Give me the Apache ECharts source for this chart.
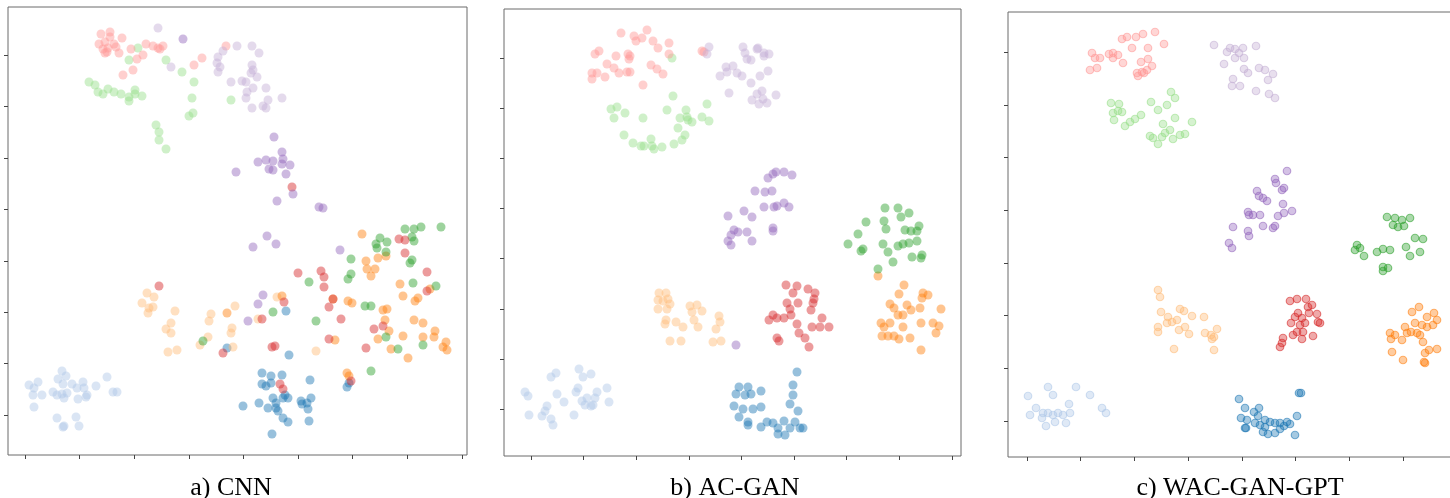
<!DOCTYPE html>
<html><head><meta charset="utf-8">
<script src="https://cdn.jsdelivr.net/npm/echarts@6/dist/echarts.min.js"></script>
<style>html,body{margin:0;padding:0;background:#fff}#c{width:1450px;height:498px}</style>
</head><body><div id="c"></div>
<script>
// ---- class names / colours (tab20 pairs) ----
const classNames = ['c0','c1','c2','c3','c4','c5','c6','c7','c8','c9'];
const panelTitles = ['a) CNN', 'b) AC-GAN', 'c) WAC-GAN-GPT'];

// ---- tick values (t-SNE units, no labels) ----
const aXTicks = [0,54.6,109.2,163.8,218.4,273,327.6,382.2,436.8];
const aYTicks = [0,51.4,102.8,154.2,205.6,257,308.4,359.8];
const bXTicks = [0,52.6,105.2,157.8,210.4,263,315.6,368.2,420.8];
const bYTicks = [0,50.1,100.2,150.3,200.4,250.5,300.6,350.7];
const cXTicks = [0,53.7,107.4,161.1,214.8,268.5,322.2,375.9];
const cYTicks = [0,52.7,105.4,158.1,210.8,263.5,316.2,368.9];

// ---- panel a) CNN ----
const cnnLightBlue = [[4,30],[13,33],[9,27],[8,20],[17,20],[9,8],[28,23],[33,36],[37,44],[41,39],[38,31],[32,20],[37,21],[42,22],[39,17],[47,31],[52,27],[58,33],[59,27],[53,16],[61,18],[62,20],[71,29],[82,38],[88,23],[92,23],[32,-3],[39,-11],[38,-12],[51,-2],[54,-11]];
const cnnBlue = [[264,60],[237,42],[246,39],[257,40],[237,31],[241,29],[246,32],[285,35],[248,17],[260,20],[258,17],[263,17],[218,9],[234,12],[243,7],[251,12],[251,7],[253,4],[276,14],[277,11],[282,12],[286,17],[283,6],[258,-3],[263,-7],[284,-6],[247,-19],[322,28],[324,32],[261,104],[202,67]];
const cnnLightOrange = [[122,122],[129,118],[117,112],[124,107],[128,108],[123,102],[150,104],[146,92],[141,86],[146,82],[143,63],[152,65],[186,101],[184,94],[210,109],[175,70],[183,78],[207,87],[206,82],[208,68],[252,118],[233,96],[291,64]];
const cnnOrange = [[337,181],[341,154],[353,157],[361,159],[342,146],[350,146],[346,139],[375,131],[378,119],[390,114],[393,117],[405,126],[323,114],[327,112],[358,105],[362,106],[360,95],[364,84],[353,76],[366,66],[378,79],[389,95],[398,92],[398,78],[410,84],[409,78],[421,73],[418,68],[422,65],[383,57],[308,116],[310,75],[322,42],[324,39],[257,119],[202,102]];
const cnnLightGreen = [[113,367],[104,355],[141,355],[157,343],[169,333],[167,317],[164,299],[168,302],[206,315],[64,333],[70,330],[73,323],[78,321],[83,326],[89,323],[96,321],[104,318],[104,314],[110,325],[110,321],[117,319],[131,290],[134,283],[134,275],[141,266]];
const cnnGreen = [[380,186],[389,186],[396,188],[416,188],[355,177],[351,171],[352,167],[362,173],[387,178],[389,174],[361,163],[387,155],[385,152],[326,156],[326,141],[323,136],[284,133],[388,132],[411,129],[248,103],[291,94],[340,109],[346,109],[361,78],[373,66],[398,70],[346,44],[178,74]];
const cnnLightRed = [[76,381],[85,383],[97,377],[85,378],[74,371],[80,373],[89,371],[78,366],[82,363],[80,362],[83,367],[91,368],[94,362],[106,366],[121,371],[128,369],[133,367],[138,369],[135,366],[112,356],[118,360],[108,345],[98,340],[169,350],[177,357],[201,369]];
const cnnRed = [[267,228],[374,176],[380,175],[380,162],[273,142],[296,144],[299,138],[299,128],[402,143],[402,124],[259,113],[308,116],[304,108],[237,96],[316,96],[349,86],[358,89],[134,129],[198,62],[247,68],[250,69],[304,76],[341,67],[255,31],[258,26],[326,34]];
const cnnLightPurple = [[133,387],[146,348],[193,358],[198,364],[192,352],[195,348],[193,343],[212,369],[227,369],[234,362],[227,350],[228,345],[226,342],[232,338],[206,333],[217,334],[221,333],[228,327],[241,327],[222,323],[221,317],[243,315],[257,317],[227,307],[238,309],[241,307]];
const cnnPurple = [[158,376],[249,278],[257,263],[258,256],[233,253],[241,255],[248,254],[257,251],[265,250],[244,246],[248,245],[261,241],[211,243],[268,221],[252,214],[294,208],[298,207],[242,179],[251,171],[228,168],[315,165],[238,120],[233,111],[223,94]];

// ---- panel b) AC-GAN ----
const acLightBlue = [[-6,17],[-3,13],[20,32],[25,36],[48,40],[52,32],[60,35],[26,15],[33,7],[45,17],[47,21],[51,8],[54,4],[56,11],[60,3],[62,4],[64,11],[66,17],[76,21],[78,7],[-2,-6],[11,-7],[14,-2],[16,3],[20,-10],[22,-16],[43,-6]];
const acBlue = [[266,37],[262,24],[208,22],[217,22],[205,15],[214,14],[220,15],[230,18],[262,14],[203,3],[212,0],[222,0],[230,2],[259,5],[267,-2],[208,-8],[217,-13],[217,-16],[230,-18],[236,-13],[242,-14],[253,-12],[264,-13],[247,-19],[259,-19],[269,-19],[272,-19],[247,-25],[254,-26]];
const acLightOrange = [[128,116],[135,116],[127,109],[132,108],[137,110],[139,105],[127,100],[136,100],[159,103],[166,104],[161,97],[171,98],[163,89],[167,82],[135,89],[134,85],[145,87],[152,82],[188,93],[189,87],[185,80],[139,68],[150,68],[182,67],[190,68]];
const acOrange = [[347,133],[373,124],[368,115],[392,116],[397,114],[391,111],[359,105],[363,101],[376,104],[380,99],[389,101],[410,100],[367,94],[372,94],[350,86],[353,82],[359,86],[372,82],[390,86],[402,86],[408,83],[351,73],[357,73],[363,73],[368,70],[379,71],[405,76],[390,59]];
const acLightGreen = [[141,351],[142,313],[80,300],[86,302],[94,296],[83,291],[112,291],[136,299],[155,299],[176,305],[149,291],[156,292],[157,289],[161,287],[171,292],[178,288],[147,281],[154,274],[151,269],[143,265],[93,274],[102,266],[110,263],[113,263],[120,270],[121,263],[123,260],[131,262]];
const acGreen = [[354,201],[367,201],[378,196],[370,192],[335,187],[353,188],[355,180],[327,175],[374,179],[380,178],[386,178],[388,183],[317,165],[332,160],[352,165],[367,163],[372,165],[378,166],[386,168],[330,158],[357,157],[362,147],[347,140],[381,152],[391,154],[390,151]];
const acLightRed = [[90,376],[103,373],[116,379],[111,371],[105,368],[122,368],[138,366],[127,361],[64,355],[68,358],[85,353],[97,355],[99,353],[98,350],[138,355],[76,345],[83,341],[61,336],[66,336],[61,330],[74,332],[88,336],[96,337],[99,337],[120,344],[126,340],[132,335],[112,324],[171,358],[173,357]];
const acRed = [[255,124],[266,123],[262,116],[277,120],[284,116],[283,110],[282,106],[256,106],[267,106],[259,100],[280,99],[242,94],[238,89],[246,91],[253,91],[260,94],[291,91],[266,85],[281,82],[289,82],[298,82],[268,76],[246,71],[248,68],[274,71],[278,62]];
const acLightPurple = [[178,362],[176,355],[212,362],[214,356],[216,350],[220,349],[226,360],[227,361],[233,356],[238,355],[233,353],[195,342],[202,343],[189,333],[196,337],[206,336],[211,333],[229,333],[237,338],[220,326],[198,316],[231,318],[226,315],[221,309],[232,310],[228,305],[236,306],[245,314]];
const acPurple = [[237,231],[242,235],[245,237],[253,237],[261,234],[224,218],[234,217],[241,218],[233,202],[243,202],[246,203],[253,206],[258,202],[197,193],[213,198],[221,192],[203,179],[207,177],[216,177],[242,181],[242,178],[200,174],[197,168],[221,168],[200,164],[205,64]];

// ---- panel c) WAC-GAN-GPT ----
const wacLightBlue = [[1,25],[9,13],[3,6],[21,34],[26,26],[49,34],[63,26],[16,8],[21,8],[26,6],[31,8],[19,-5],[28,-1],[39,-2],[42,17],[43,8],[36,6],[75,13],[79,8],[15,3]];
const wacBlue = [[212,22],[218,13],[214,3],[220,1],[218,-7],[227,9],[232,13],[231,5],[228,-2],[233,-4],[238,-6],[243,-1],[248,-2],[253,-2],[257,-5],[260,-1],[263,-3],[236,-11],[241,-13],[248,-12],[253,-8],[268,-14],[270,5],[272,28],[274,28],[219,-7],[238,1]];
const wacLightOrange = [[131,131],[133,124],[134,109],[141,104],[145,99],[150,101],[153,112],[157,110],[165,105],[158,94],[152,91],[131,94],[131,89],[162,87],[177,104],[178,88],[184,86],[187,84],[190,92],[185,82],[147,72],[187,71],[140,98]];
const wacOrange = [[385,109],[392,114],[400,104],[407,108],[410,101],[406,96],[388,98],[395,96],[400,94],[378,94],[384,89],[390,88],[393,86],[363,88],[368,86],[364,82],[375,81],[380,88],[396,79],[365,69],[376,61],[398,68],[402,71],[410,72],[397,59],[398,58]];
const wacLightGreen = [[84,318],[92,317],[91,310],[95,309],[86,308],[87,301],[98,295],[103,299],[108,302],[114,306],[124,319],[131,311],[140,316],[144,329],[148,323],[136,297],[143,291],[148,303],[165,299],[123,285],[126,283],[135,284],[131,277],[146,282],[153,286],[158,287],[138,288]];
const wacGreen = [[360,204],[368,203],[375,201],[383,203],[366,196],[371,194],[377,195],[330,176],[333,173],[328,171],[337,165],[350,169],[356,172],[363,171],[379,174],[388,183],[396,182],[393,169],[383,165],[356,154],[361,153],[356,150]];
const wacLightRed = [[65,368],[68,363],[73,363],[82,367],[86,368],[91,366],[86,363],[96,358],[63,351],[70,353],[95,382],[100,384],[109,384],[116,387],[128,389],[137,377],[105,373],[121,373],[114,359],[121,362],[125,355],[120,351],[117,348],[111,345],[110,348],[115,349]];
const wacRed = [[263,120],[270,122],[279,122],[285,116],[271,108],[268,104],[275,103],[282,108],[290,107],[291,99],[293,98],[264,98],[273,96],[278,98],[270,89],[276,89],[266,86],[286,85],[275,82],[256,83],[255,78],[253,74],[281,114]];
const wacLightPurple = [[187,376],[200,369],[203,373],[208,372],[216,373],[212,368],[208,363],[217,363],[197,357],[229,375],[217,352],[221,348],[232,353],[238,351],[246,347],[241,341],[206,342],[205,335],[213,335],[229,330],[242,327],[248,323]];
const wacPurple = [[260,250],[248,242],[249,238],[257,233],[255,231],[230,230],[232,225],[236,223],[240,220],[256,217],[265,210],[257,208],[251,205],[221,209],[226,206],[222,206],[233,206],[236,195],[246,193],[248,195],[206,194],[221,190],[222,185],[202,178],[205,173]];

// ---------------- build chart ----------------
const palette = ['#aec7e8','#1f77b4','#ffbb78','#ff7f0e','#98df8a','#2ca02c','#ff9896','#d62728','#c5b0d5','#9467bd'];
const panels = [
  {data:[cnnLightBlue,cnnBlue,cnnLightOrange,cnnOrange,cnnLightGreen,cnnGreen,cnnLightRed,cnnRed,cnnLightPurple,cnnPurple],
   grid:{left:8,top:7,width:459,height:448}, x:[-17,442], y:[-40,408], xt:aXTicks, yt:aYTicks, tx:226, ring:false},
  {data:[acLightBlue,acBlue,acLightOrange,acOrange,acLightGreen,acGreen,acLightRed,acRed,acLightPurple,acPurple],
   grid:{left:504,top:9,width:457,height:447}, x:[-27,430], y:[-47,400], xt:bXTicks, yt:bYTicks, tx:730, ring:false},
  {data:[wacLightBlue,wacBlue,wacLightOrange,wacOrange,wacLightGreen,wacGreen,wacLightRed,wacRed,wacLightPurple,wacPurple],
   grid:{left:1008,top:12,width:444,height:445}, x:[-19,425], y:[-36,409], xt:cXTicks, yt:cYTicks, tx:1235, ring:true}
];
function rgba(hex,a){const n=parseInt(hex.slice(1),16);return `rgba(${n>>16&255},${n>>8&255},${n&255},${a})`;}
const grids=[],xAxes=[],yAxes=[],series=[],titles=[];
panels.forEach((p,i)=>{
  grids.push(Object.assign({show:true,borderColor:'#6b6b6b',borderWidth:1,backgroundColor:'#fff',outerBoundsMode:'none'},p.grid));
  const common={gridIndex:i,type:'value',splitLine:{show:false},axisLabel:{show:false},
    axisLine:{show:false,onZero:false},axisTick:{show:true,inside:false,length:4,lineStyle:{color:'#444',width:1}}};
  xAxes.push(Object.assign({},common,{position:'bottom',min:p.x[0],max:p.x[1],axisTick:Object.assign({},common.axisTick,{customValues:p.xt})}));
  yAxes.push(Object.assign({},common,{position:'left',min:p.y[0],max:p.y[1],axisTick:Object.assign({},common.axisTick,{customValues:p.yt})}));
  p.data.forEach((d,k)=>{
    series.push({type:'scatter',name:classNames[k],xAxisIndex:i,yAxisIndex:i,data:d,
      symbolSize:p.ring?7.5:9,silent:true,
      itemStyle:p.ring?{color:rgba(palette[k],0.5),borderColor:rgba(palette[k],0.7),borderWidth:1.2}
                      :{color:rgba(palette[k],0.58)}});
  });
  titles.push({text:panelTitles[i],left:p.tx,top:470,textAlign:'center',
    textStyle:{fontFamily:'Liberation Serif',fontSize:26,fontWeight:'normal',color:'#000'}});
});
const chart=echarts.init(document.getElementById('c'),null,{renderer:'canvas'});
chart.setOption({animation:false,backgroundColor:'#fff',title:titles,grid:grids,xAxis:xAxes,yAxis:yAxes,series:series});
</script></body></html>
